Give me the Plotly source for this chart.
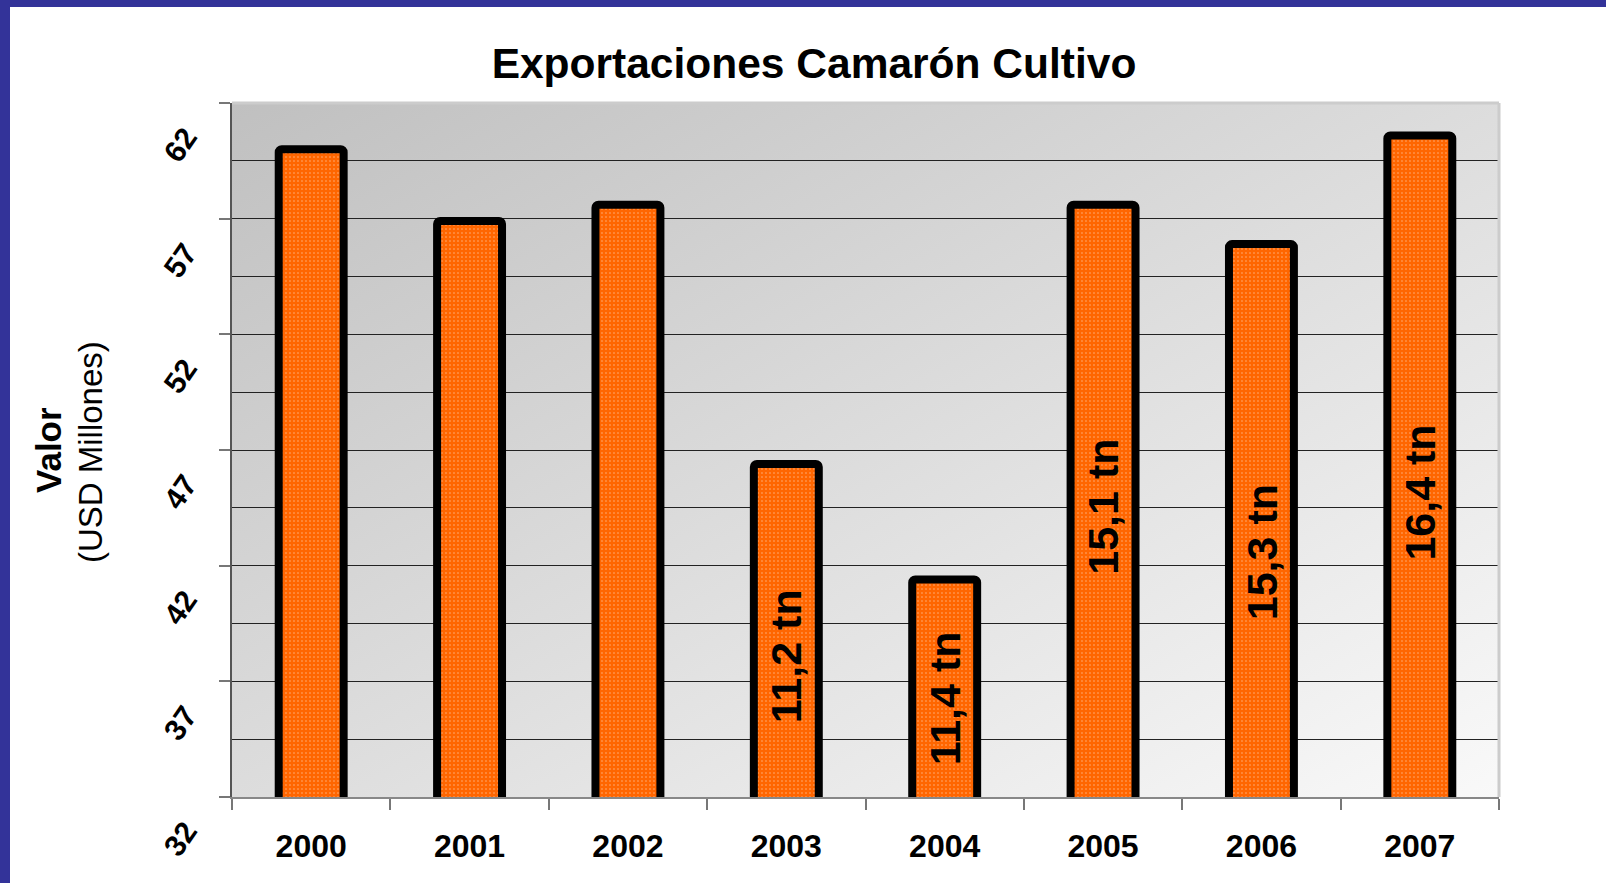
import base64
import plotly.graph_objects as go

# datos
anios = ["2000", "2001", "2002", "2003", "2004", "2005", "2006", "2007"]
valor_usd = [60.0, 56.9, 57.6, 46.4, 41.4, 57.6, 55.9, 60.6]

# etiquetas de toneladas dentro de las barras
etiqueta_anio = ["2003", "2004", "2005", "2006", "2007"]
etiqueta_texto = ["11,2 tn", "11,4 tn", "15,1 tn", "15,3 tn", "16,4 tn"]
etiqueta_y = [38.1, 36.25, 44.55, 42.6, 45.15]

W, H = 1606, 883
L, R, T, B = 232, 107, 103, 86
pw, ph = W - L - R, H - T - B

fig = go.Figure()

fig.add_trace(go.Bar(
    x=anios, y=valor_usd, width=0.41,
    marker=dict(color="#FF6600",
                line=dict(color="black", width=8),
                cornerradius=3,
                pattern=dict(shape=".", fgcolor="white", bgcolor="#FF6600",
                             size=4, solidity=0.12)),
    hoverinfo="x+y", showlegend=False))

# texto rotado sobre las barras (x como indice de categoria)
for a, txt, yy in zip(etiqueta_anio, etiqueta_texto, etiqueta_y):
    fig.add_annotation(x=anios.index(a), y=yy, text="<b>%s</b>" % txt, textangle=-90,
                       showarrow=False, font=dict(size=43, color="black"))

# fondo degradado gris del area del grafico
svg = ('<svg xmlns="http://www.w3.org/2000/svg" width="100" height="100" preserveAspectRatio="none">'
       '<defs><linearGradient id="g" x1="0" y1="0" x2="1" y2="1">'
       '<stop offset="0" stop-color="#c0c0c0"/><stop offset="1" stop-color="#f9f9f9"/>'
       '</linearGradient></defs><rect width="100" height="100" fill="url(#g)"/></svg>')
fig.add_layout_image(source="data:image/svg+xml;base64," + base64.b64encode(svg.encode()).decode(),
                     xref="paper", yref="paper", x=0, y=1, sizex=1, sizey=1,
                     xanchor="left", yanchor="top", sizing="stretch", layer="below")

# borde superior y derecho del area
fig.add_shape(type="line", xref="paper", yref="paper", x0=0, x1=1, y0=1, y1=1,
              line=dict(color="#cccccc", width=3))
fig.add_shape(type="line", xref="paper", yref="paper", x0=1, x1=1, y0=0, y1=1,
              line=dict(color="#cccccc", width=3))

# marco azul (arriba e izquierda)
fig.add_shape(type="rect", xref="paper", yref="paper", layer="above",
              x0=-L / pw, x1=(10 - L) / pw, y0=-B / ph, y1=1 + T / ph,
              fillcolor="#333399", line=dict(width=0))
fig.add_shape(type="rect", xref="paper", yref="paper", layer="above",
              x0=-L / pw, x1=1 + R / pw, y0=1 + (T - 7) / ph, y1=1 + T / ph,
              fillcolor="#333399", line=dict(width=0))

# titulo del eje y
fig.add_annotation(xref="paper", yref="paper", x=(48 - L) / pw, y=0.5,
                   xanchor="center", yanchor="middle",
                   text="<b>Valor</b>", textangle=-90, showarrow=False,
                   font=dict(size=35, color="black"))
fig.add_annotation(xref="paper", yref="paper", x=(90 - L) / pw, y=0.497,
                   xanchor="center", yanchor="middle",
                   text="(USD Millones)", textangle=-90, showarrow=False,
                   font=dict(size=33, color="black"))

fig.update_layout(
    width=W, height=H,
    margin=dict(l=L, r=R, t=T, b=B, autoexpand=False),
    title=dict(text="<b>Exportaciones Camarón Cultivo</b>",
               x=814 / W, xanchor="center", y=1 - 63 / H, yanchor="middle",
               font=dict(size=42.5, color="black")),
    font=dict(family="Liberation Sans, Arial, sans-serif", color="black"),
    paper_bgcolor="white",
    plot_bgcolor="rgba(0,0,0,0)",
)

fig.update_xaxes(
    type="category", range=[-0.5, len(anios) - 0.5], tickson="boundaries",
    ticks="outside", ticklen=11, tickangle=0,
    tickcolor="#777777", tickwidth=2, showline=True, linecolor="#888888", linewidth=2,
    showgrid=False, ticklabelstandoff=20,
    tickfont=dict(size=32, color="black", family="Liberation Sans, Arial, sans-serif", weight="bold"),
)

fig.update_yaxes(
    range=[32, 62], tick0=32, dtick=5, ticks="outside", ticklen=11,
    tickcolor="#777777", tickwidth=2, showline=True, linecolor="#555555", linewidth=2,
    showgrid=True, gridcolor="#222222", gridwidth=1, zeroline=False,
    minor=dict(tick0=32, dtick=2.5, showgrid=True, gridcolor="#222222", gridwidth=1, ticks=""),
    tickangle=-55, ticklabelshift=30, ticklabelstandoff=27,
    tickfont=dict(size=30, color="black", family="Liberation Sans, Arial, sans-serif", weight="bold"),
)

fig.write_html("out.html", config={"displayModeBar": False},
               post_script="document.body.style.margin='0px';")
